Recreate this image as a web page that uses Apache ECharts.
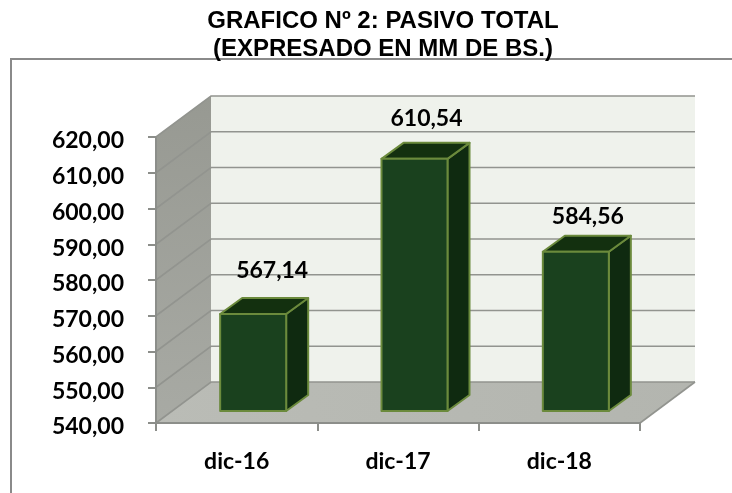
<!DOCTYPE html>
<html>
<head>
<meta charset="utf-8">
<title>Pasivo total</title>
<script src="https://cdn.jsdelivr.net/npm/echarts@6/dist/echarts.min.js"></script>
<style>
  html, body { margin: 0; padding: 0; background: #fff; }
  #chart { width: 732px; height: 493px; }
</style>
</head>
<body>
<div id="chart"></div>
<script>
const categories = ['dic-16', 'dic-17', 'dic-18'];
const pasivoValues = [567.14, 610.54, 584.56];
const valueLabels = ['567,14', '610,54', '584,56'];
const yTicks = [540, 550, 560, 570, 580, 590, 600, 610, 620];

// fake 3d: how far the back wall and the bars sit from the axis plane
const WALL_DX = 55, WALL_DY = -41;
const BAR_DX = 16.5, BAR_DY = -12;
const BAR_DEPTH_X = 22, BAR_DEPTH_Y = -16;
const BAR_WIDTH = 66;
const LABEL_FAMILY = 'Lato, Carlito, sans-serif';
const LABEL_SIZE = 23;
// labels were moved by hand in the original, so each bar has its own shift
const labelLift = [43, 40, 35];
const labelShift = [19, 12, 12];

const chart = echarts.init(document.getElementById('chart'));

function renderWalls(params, api) {
  const c = params.coordSys;
  const x0 = c.x, x1 = c.x + c.width;
  const yTop = api.coord([0, api.value(1)])[1];
  const yBottom = api.coord([0, api.value(0)])[1];
  return {
    type: 'group',
    children: [
      {
        type: 'polygon',
        shape: { points: [[x0 + WALL_DX, yTop + WALL_DY], [x1 + WALL_DX, yTop + WALL_DY], [x1 + WALL_DX, yBottom + WALL_DY], [x0 + WALL_DX, yBottom + WALL_DY]] },
        style: { fill: '#eff2ec' }
      },
      {
        type: 'polygon',
        shape: { points: [[x0, yTop], [x0 + WALL_DX, yTop + WALL_DY], [x0 + WALL_DX, yBottom + WALL_DY], [x0, yBottom]] },
        style: { fill: new echarts.graphic.LinearGradient(0, 0, 0, 1, [
          { offset: 0, color: '#979992' },
          { offset: 1, color: '#a8aaa4' }
        ]) }
      },
      {
        type: 'polygon',
        shape: { points: [[x0, yBottom], [x0 + WALL_DX, yBottom + WALL_DY], [x1 + WALL_DX, yBottom + WALL_DY], [x1, yBottom]] },
        style: { fill: new echarts.graphic.LinearGradient(0, 1, 1, 0, [
          { offset: 0, color: '#babcb6' },
          { offset: 1, color: '#b3b5af' }
        ]) }
      }
    ]
  };
}

function renderGridLine(params, api) {
  const c = params.coordSys;
  const x0 = c.x, x1 = c.x + c.width;
  const y = api.coord([0, api.value(0)])[1];
  return {
    type: 'polyline',
    shape: { points: [[x0, y], [x0 + WALL_DX, y + WALL_DY], [x1 + WALL_DX, y + WALL_DY]] },
    style: { fill: null, stroke: '#92948f', lineWidth: 1.6 }
  };
}

function renderFloorEdge(params, api) {
  const c = params.coordSys;
  const x1 = c.x + c.width;
  const y = api.coord([0, api.value(0)])[1];
  return {
    type: 'line',
    shape: { x1: x1, y1: y, x2: x1 + WALL_DX, y2: y + WALL_DY },
    style: { stroke: '#92948f', lineWidth: 1.6 }
  };
}

function renderBar(params, api) {
  const i = api.value(0);
  const top = api.coord([i, api.value(1)]);
  const bottom = api.coord([i, 540]);
  const xl = top[0] - BAR_WIDTH / 2 + BAR_DX;
  const xr = xl + BAR_WIDTH;
  const yt = top[1] + BAR_DY;
  const yb = bottom[1] + BAR_DY;
  const edge = { stroke: '#6b8a3c', lineWidth: 2, lineJoin: 'round' };
  return {
    type: 'group',
    children: [
      {
        type: 'polygon',
        shape: { points: [[xr, yt], [xr + BAR_DEPTH_X, yt + BAR_DEPTH_Y], [xr + BAR_DEPTH_X, yb + BAR_DEPTH_Y], [xr, yb]] },
        style: { fill: '#0f2a10', ...edge }
      },
      {
        type: 'polygon',
        shape: { points: [[xl, yt], [xl + BAR_DEPTH_X, yt + BAR_DEPTH_Y], [xr + BAR_DEPTH_X, yt + BAR_DEPTH_Y], [xr, yt]] },
        style: { fill: '#13300f', ...edge }
      },
      {
        type: 'rect',
        shape: { x: xl, y: yt, width: BAR_WIDTH, height: yb - yt },
        style: { fill: '#1a411e', ...edge }
      },
      {
        type: 'text',
        style: {
          x: top[0] + BAR_DX + labelShift[i],
          y: yt - labelLift[i],
          text: valueLabels[i],
          fontFamily: LABEL_FAMILY,
          fontSize: LABEL_SIZE,
          fontWeight: 'bold',
          fill: '#000',
          align: 'center',
          verticalAlign: 'middle'
        }
      }
    ]
  };
}

const axisGrey = '#8c8e8a';

const option = {
  animation: false,
  backgroundColor: '#fff',
  title: {
    text: 'GRAFICO Nº 2: PASIVO TOTAL\n(EXPRESADO EN MM DE BS.)',
    left: 378,
    top: 3,
    textAlign: 'center',
    textStyle: { fontFamily: '"Liberation Sans", Arial, sans-serif', fontSize: 24, fontWeight: 'bold', color: '#000', lineHeight: 27.5 }
  },
  graphic: [
    {
      type: 'rect',
      z: -1,
      silent: true,
      shape: { x: 11, y: 59, width: 800, height: 500 },
      style: { fill: null, stroke: '#8a8a8a', lineWidth: 2 }
    }
  ],
  grid: { left: 156, right: 92, top: 137, bottom: 70 },
  xAxis: {
    type: 'category',
    data: categories,
    z: 3,
    axisLine: { lineStyle: { color: axisGrey, width: 2 } },
    axisTick: { show: true, alignWithLabel: false, length: 8, lineStyle: { color: axisGrey, width: 2 } },
    axisLabel: { fontFamily: LABEL_FAMILY, fontSize: LABEL_SIZE, fontWeight: 'bold', color: '#000', margin: 27 }
  },
  yAxis: {
    type: 'value',
    min: 540,
    max: 620,
    interval: 10,
    z: 3,
    splitLine: { show: false },
    axisLine: { show: true, lineStyle: { color: axisGrey, width: 2 } },
    axisTick: { show: true, length: 8, lineStyle: { color: axisGrey, width: 2 } },
    axisLabel: {
      fontFamily: LABEL_FAMILY, fontSize: LABEL_SIZE, fontWeight: 'bold', color: '#000', margin: 32,
      // digits sit a little under their tick in the original
      verticalAlign: 'top',
      lineHeight: 8,
      formatter: v => v.toFixed(2).replace('.', ',')
    }
  },
  series: [
    { type: 'custom', z: 1, renderItem: renderWalls, silent: true, encode: { y: [0, 1] }, data: [[540, 620]] },
    { type: 'custom', z: 2, renderItem: renderGridLine, silent: true, encode: { y: 0 }, data: yTicks.map(v => [v]) },
    { type: 'custom', z: 2, renderItem: renderFloorEdge, silent: true, encode: { y: 0 }, data: [[540]] },
    { type: 'custom', z: 4, renderItem: renderBar, encode: { x: 0, y: 1 }, data: pasivoValues.map((v, i) => [i, v]) }
  ]
};

chart.setOption(option);
</script>
</body>
</html>
